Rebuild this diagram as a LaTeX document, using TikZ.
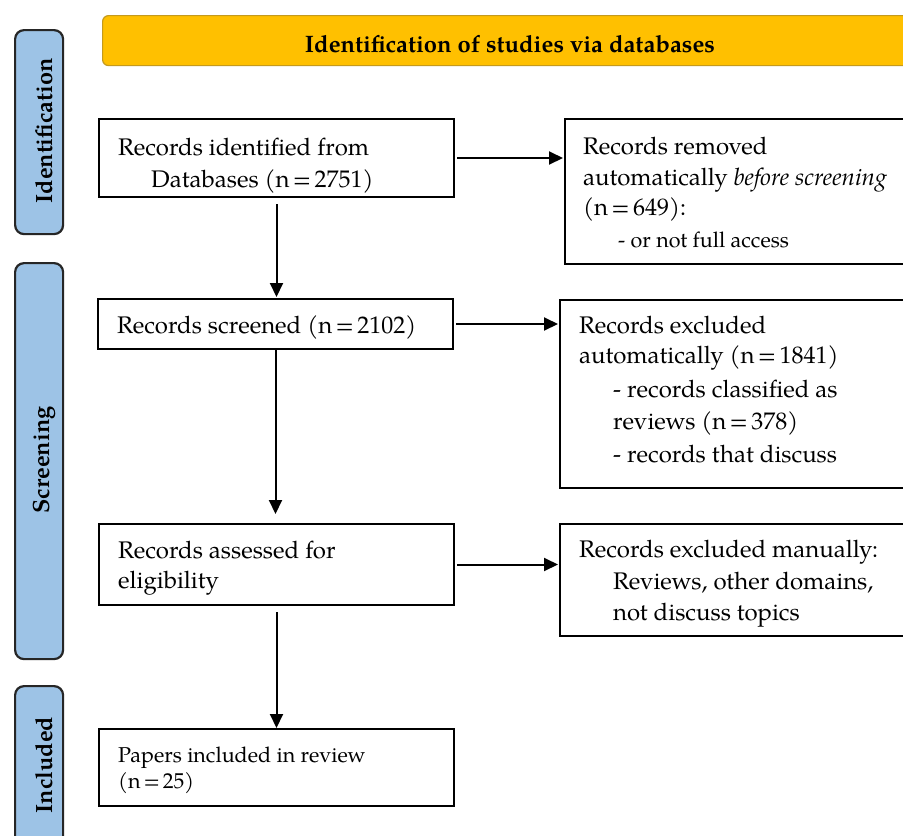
\documentclass[tikz,border=0pt]{standalone}
\usepackage{fontspec}
\setmainfont{texgyrepagella}[Extension=.otf, UprightFont=*-regular, BoldFont=*-bold, ItalicFont=*-italic, BoldItalicFont=*-bolditalic]
\usetikzlibrary{arrows.meta}
\definecolor{gold}{HTML}{FFC000}
\definecolor{goldline}{HTML}{C49A1E}
\definecolor{tabblue}{HTML}{9DC3E6}
\newcommand{\myeq}{\hspace{0.14em}=\hspace{0.14em}}
\tikzset{
  box/.style={draw=black, line width=2pt, fill=white, anchor=north west, inner sep=0pt},
  tab/.style={draw=black!85, line width=2.2pt, fill=tabblue, rounded corners=9pt, anchor=north west, inner sep=0pt, minimum width=48pt},
  banner/.style={draw=goldline, line width=1.2pt, fill=gold, rounded corners=6pt, anchor=north west, inner sep=0pt},
  tabtext/.style={rotate=90, inner sep=0pt, font=\fontsize{23.5}{27}\selectfont\bfseries},
  titletext/.style={inner sep=0pt, anchor=base, font=\fontsize{23.8}{27}\selectfont\bfseries},
  txt/.style={inner sep=0pt, anchor=base west, font=\fontsize{24}{28}\selectfont},
  smalltxt/.style={inner sep=0pt, anchor=base west, font=\fontsize{21.5}{26}\selectfont},
  arr/.style={line width=2pt, -{Triangle[length=14pt,width=13pt]}},
}
\begin{document}
\begin{tikzpicture}[x=1pt,y=-1pt]
\clip (0,0) rectangle (903,836);
\fill[white] (0,0) rectangle (903,836);

% banner
\node[banner, minimum width=840pt, minimum height=50pt] (ban) at (102,15) {};
\node[titletext] (title) at (510,52) {Identification of studies via databases};

% side tabs
\node[tab, minimum height=204pt] (tid) at (14,29) {};
\node[tabtext] (tidt) at (44,131) {Identification};
\node[tab, minimum height=396pt] (tsc) at (14,262) {};
\node[tabtext] (tsct) at (44,460) {Screening};
\node[tab, minimum height=170pt] (tin) at (14,685) {};
\node[tabtext] (tint) at (44,765) {Included};

% left boxes
\node[box, minimum width=355pt, minimum height=78pt] (b1) at (98,118) {};
\node[txt] (b1a) at (118,155) {Records identified from};
\node[txt] (b1b) at (151,187) {Databases (n\myeq 2751)};

\node[box, minimum width=355pt, minimum height=50pt] (b2) at (97,298) {};
\node[txt] (b2a) at (117,333) {Records screened (n\myeq 2102)};

\node[box, minimum width=355pt, minimum height=81pt] (b3) at (98,523) {};
\node[txt] (b3a) at (118,558) {Records assessed for};
\node[txt] (b3b) at (118,588) {eligibility};

\node[box, minimum width=355pt, minimum height=77pt] (b4) at (98,728) {};
\node[smalltxt] (b4a) at (118,762) {Papers included in review};
\node[smalltxt] (b4b) at (118,788) {(n\myeq 25)};

% right boxes
\node[box, minimum width=380pt, minimum height=145pt] (r1) at (564,118) {};
\node[txt] (r1a) at (583,154) {Records removed};
\node[txt] (r1b) at (583,185) {automatically \textit{before screening}};
\node[txt] (r1c) at (583,215) {(n\myeq 649):};
\node[smalltxt] (r1d) at (618,247) {- or not full access};

\node[box, minimum width=385pt, minimum height=188pt] (r2) at (559,299) {};
\node[txt] (r2a) at (579,333) {Records excluded};
\node[txt] (r2b) at (579,363) {automatically (n\myeq 1841)};
\node[txt] (r2c) at (613,397) {- records classified as};
\node[txt] (r2d) at (613,429) {reviews (n\myeq 378)};
\node[txt] (r2e) at (613,462) {- records that discuss};

\node[box, minimum width=385pt, minimum height=112pt] (r3) at (559,523) {};
\node[txt] (r3a) at (579,557) {Records excluded manually:};
\node[txt] (r3b) at (613,589) {Reviews, other domains,};
\node[txt] (r3c) at (613,620) {not discuss topics};

% vertical arrows
\draw[arr, shorten <=6pt, shorten >=1pt] (b1.south) -- (b1.south |- b2.north);
\draw[arr, shorten >=9pt] (b2.south) -- (b2.south |- b3.north);
\draw[arr, shorten <=6pt] (b3.south) -- (b3.south |- b4.north);

% horizontal arrows
\draw[arr, shorten <=2pt, shorten >=1pt] (b1.east) -- (b1.east -| r1.west);
\draw[arr, shorten <=2pt, shorten >=1pt] (b2.east) -- (b2.east -| r2.west);
\draw[arr, shorten <=2pt, shorten >=1pt] (b3.east) -- (b3.east -| r3.west);
\end{tikzpicture}
\end{document}
